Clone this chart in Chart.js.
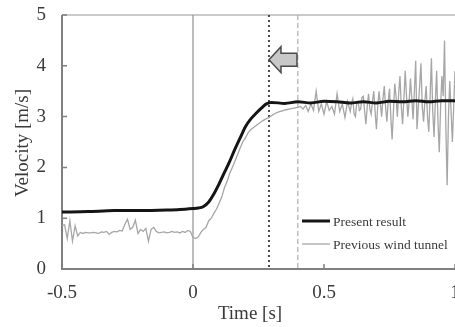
<!DOCTYPE html>
<html>
<head>
<meta charset="utf-8">
<script src="https://cdn.jsdelivr.net/npm/chart.js@4/dist/chart.umd.min.js"></script>
<style>
  html, body { margin: 0; padding: 0; background: #fff; }
  canvas { display: block; }
</style>
</head>
<body>
<canvas id="velocity-chart" width="455" height="327"></canvas>
<script>
// Present result (smooth, thick black)
const presentTimes = [
  -0.5, -0.4, -0.3, -0.2, -0.1, -0.05, 0, 0.02, 0.04, 0.06, 0.08, 0.10,
  0.12, 0.14, 0.16, 0.18, 0.20, 0.22, 0.24, 0.26, 0.28, 0.30, 0.35, 0.40,
  0.45, 0.50, 0.55, 0.60, 0.65, 0.70, 0.75, 0.80, 0.85, 0.90, 0.95, 1.00,
];
const presentVel = [
  1.12, 1.13, 1.15, 1.15, 1.16, 1.17, 1.19, 1.20, 1.23, 1.32, 1.48, 1.68,
  1.90, 2.12, 2.36, 2.58, 2.80, 2.95, 3.06, 3.16, 3.25, 3.28, 3.26, 3.29,
  3.27, 3.30, 3.29, 3.27, 3.29, 3.27, 3.30, 3.29, 3.31, 3.29, 3.31, 3.31,
];

// Previous wind tunnel (noisy, thin gray)
const tunnelTimes = [
  -0.50, -0.49, -0.48, -0.47, -0.46, -0.45, -0.44, -0.43, -0.42, -0.41,
  -0.40, -0.39, -0.38, -0.37, -0.36, -0.35, -0.34, -0.33, -0.32, -0.31,
  -0.30, -0.29, -0.28, -0.27, -0.26, -0.25, -0.24, -0.23, -0.22, -0.21,
  -0.20, -0.19, -0.18, -0.17, -0.16, -0.15, -0.14, -0.13, -0.12, -0.11,
  -0.10, -0.09, -0.08, -0.07, -0.06, -0.05, -0.04, -0.03, -0.02, -0.01,
  0.00, 0.01, 0.02, 0.03, 0.04, 0.05, 0.06, 0.07, 0.08, 0.09,
  0.10, 0.11, 0.12, 0.13, 0.14, 0.15, 0.16, 0.17, 0.18, 0.19,
  0.20, 0.21, 0.22, 0.23, 0.24, 0.25, 0.26, 0.27, 0.28, 0.29,
  0.30, 0.31, 0.32, 0.33, 0.34, 0.35, 0.36, 0.37, 0.38, 0.39,
  0.40, 0.41, 0.42, 0.43, 0.44, 0.45, 0.46, 0.47, 0.48, 0.49,
  0.50, 0.51, 0.52, 0.53, 0.54, 0.55, 0.56, 0.57, 0.58, 0.59,
  0.600, 0.605, 0.610, 0.615, 0.620, 0.625, 0.630, 0.635, 0.640, 0.645,
  0.650, 0.655, 0.660, 0.665, 0.670, 0.675, 0.680, 0.685, 0.690, 0.695,
  0.700, 0.705, 0.710, 0.715, 0.720, 0.725, 0.730, 0.735, 0.740, 0.745,
  0.750, 0.755, 0.760, 0.765, 0.770, 0.775, 0.780, 0.785, 0.790, 0.795,
  0.800, 0.805, 0.810, 0.815, 0.820, 0.825, 0.830, 0.835, 0.840, 0.845,
  0.850, 0.855, 0.860, 0.865, 0.870, 0.875, 0.880, 0.885, 0.890, 0.895,
  0.900, 0.905, 0.910, 0.915, 0.920, 0.925, 0.930, 0.935, 0.940, 0.945,
  0.950, 0.955, 0.960, 0.965, 0.970, 0.975, 0.980, 0.985, 0.990, 0.995,
  1.000,
];
const tunnelVel = [
  0.85, 0.87, 0.60, 0.95, 0.55, 0.85, 0.65, 0.72, 0.70, 0.72,
  0.71, 0.71, 0.72, 0.71, 0.70, 0.73, 0.72, 0.74, 0.68, 0.72,
  0.74, 0.73, 0.76, 0.75, 0.88, 0.98, 0.78, 0.82, 0.96, 0.70,
  0.78, 0.74, 0.80, 0.55, 0.78, 0.82, 0.74, 0.71, 0.72, 0.73,
  0.71, 0.72, 0.74, 0.72, 0.73, 0.71, 0.74, 0.72, 0.76, 0.74,
  0.62, 0.60, 0.63, 0.72, 0.78, 0.82, 0.95, 1.00, 1.10, 1.18,
  1.30, 1.42, 1.60, 1.72, 1.88, 2.00, 2.12, 2.25, 2.38, 2.50,
  2.58, 2.68, 2.74, 2.78, 2.82, 2.86, 2.90, 2.93, 2.96, 2.98,
  3.02, 3.05, 3.08, 3.10, 3.11, 3.13, 3.14, 3.15, 3.16, 3.17,
  3.18, 3.20, 3.15, 3.22, 3.10, 3.25, 3.12, 3.50, 3.10, 3.25,
  3.05, 3.30, 3.12, 3.20, 3.05, 3.45, 3.10, 3.25, 2.98, 3.30,
  3.10, 3.25, 3.35, 3.05, 3.00, 3.28, 3.30, 3.12, 3.15, 3.38,
  3.40, 3.10, 2.85, 3.20, 3.45, 3.15, 3.05, 3.30, 3.50, 3.10,
  2.75, 3.20, 3.50, 3.25, 3.00, 3.35, 3.60, 3.20, 2.90, 3.30,
  3.55, 3.00, 2.55, 3.10, 3.65, 3.40, 3.00, 3.45, 3.80, 3.20,
  2.85, 3.35, 3.90, 3.40, 3.00, 3.30, 3.75, 3.35, 2.95, 3.50,
  4.10, 2.75, 3.20, 3.60, 4.05, 3.20, 2.90, 3.30, 3.60, 3.00,
  2.70, 3.40, 4.15, 3.10, 2.60, 3.30, 3.90, 2.90, 2.30, 3.20,
  3.80, 3.40, 4.50, 2.80, 1.65, 3.00, 3.70, 3.10, 2.50, 3.20,
  3.90,
];

const xTickValues = [-0.5, 0, 0.5, 1];
const yTickValues = [0, 1, 2, 3, 4, 5];
const seriesLabels = ['Present result', 'Previous wind tunnel'];

// vertical markers (time) and arrow anchor (time, velocity)
const startTime    = 0;
const presentMark  = 0.29;
const previousMark = 0.40;
const arrowTip     = { t: 0.29, v: 4.12 };

const SERIF   = '"Liberation Serif", "Times New Roman", serif';
const textCol = '#3a3a3a';

const toPoints = (ts, vs) => ts.map((t, i) => ({ x: t, y: vs[i] }));

const decorations = {
  id: 'decorations',
  beforeDatasetsDraw(chart) {
    const { ctx, chartArea: a, scales: { x, y } } = chart;
    ctx.save();

    // top frame line
    ctx.strokeStyle = '#b8b8b8';
    ctx.lineWidth = 1.5;
    ctx.beginPath();
    ctx.moveTo(a.left, a.top);
    ctx.lineTo(a.right, a.top);
    ctx.stroke();

    // t = 0 solid line
    ctx.strokeStyle = '#9a9a9a';
    ctx.lineWidth = 1.3;
    ctx.beginPath();
    ctx.moveTo(x.getPixelForValue(startTime), a.top);
    ctx.lineTo(x.getPixelForValue(startTime), a.bottom);
    ctx.stroke();

    // present result dotted line
    ctx.strokeStyle = '#4a4a4a';
    ctx.lineWidth = 2;
    ctx.setLineDash([2, 3]);
    ctx.beginPath();
    ctx.moveTo(x.getPixelForValue(presentMark), a.top);
    ctx.lineTo(x.getPixelForValue(presentMark), a.bottom);
    ctx.stroke();

    // previous wind tunnel dashed line
    ctx.strokeStyle = '#b0b0b0';
    ctx.lineWidth = 1.2;
    ctx.setLineDash([5, 3]);
    ctx.beginPath();
    ctx.moveTo(x.getPixelForValue(previousMark), a.top);
    ctx.lineTo(x.getPixelForValue(previousMark), a.bottom);
    ctx.stroke();
    ctx.setLineDash([]);

    // left + bottom axes
    ctx.strokeStyle = '#808080';
    ctx.lineWidth = 2;
    ctx.beginPath();
    ctx.moveTo(a.left, a.top);
    ctx.lineTo(a.left, a.bottom);
    ctx.lineTo(a.right, a.bottom);
    ctx.stroke();

    // inward tick marks
    ctx.lineWidth = 1.5;
    ctx.beginPath();
    yTickValues.forEach(v => {
      const py = y.getPixelForValue(v);
      ctx.moveTo(a.left, py);
      ctx.lineTo(a.left + 5, py);
    });
    xTickValues.forEach(t => {
      const px = x.getPixelForValue(t);
      ctx.moveTo(px, a.bottom);
      ctx.lineTo(px, a.bottom - 5);
    });
    ctx.stroke();
    ctx.restore();
  },

  afterDatasetsDraw(chart) {
    const { ctx, scales: { x, y } } = chart;
    ctx.save();

    // block arrow pointing left
    const tx = x.getPixelForValue(arrowTip.t);
    const ty = y.getPixelForValue(arrowTip.v);
    ctx.beginPath();
    ctx.moveTo(tx, ty);
    ctx.lineTo(tx + 12, ty - 13);
    ctx.lineTo(tx + 12, ty - 6.5);
    ctx.lineTo(tx + 28, ty - 6.5);
    ctx.lineTo(tx + 28, ty + 6.5);
    ctx.lineTo(tx + 12, ty + 6.5);
    ctx.lineTo(tx + 12, ty + 13);
    ctx.closePath();
    ctx.fillStyle = '#c8c8c8';
    ctx.fill();
    ctx.strokeStyle = '#4a4a4a';
    ctx.lineWidth = 1.5;
    ctx.stroke();

    // legend
    const ds = chart.data.datasets;
    const rows = [221, 244];
    ctx.font = `13.5px ${SERIF}`;
    ctx.textBaseline = 'middle';
    ctx.textAlign = 'left';
    ds.forEach((d, i) => {
      ctx.strokeStyle = d.borderColor;
      ctx.lineWidth = d.borderWidth;
      ctx.beginPath();
      ctx.moveTo(302, rows[i]);
      ctx.lineTo(330, rows[i]);
      ctx.stroke();
      ctx.fillStyle = textCol;
      ctx.fillText(d.label, 333, rows[i] + 1);
    });

    // axis titles
    ctx.font = `19px ${SERIF}`;
    ctx.fillStyle = textCol;
    ctx.textAlign = 'center';
    ctx.fillText('Time [s]', 250, 314);
    ctx.translate(23, 143);
    ctx.rotate(-Math.PI / 2);
    ctx.fillText('Velocity [m/s]', 0, 0);
    ctx.restore();
  },
};

new Chart(document.getElementById('velocity-chart'), {
  type: 'line',
  data: {
    datasets: [
      {
        label:            seriesLabels[0],
        data:             toPoints(presentTimes, presentVel),
        borderColor:      '#151515',
        borderWidth:      3,
        pointRadius:      0,
        tension:          0.4,
        cubicInterpolationMode: 'monotone',
      },
      {
        label:            seriesLabels[1],
        data:             toPoints(tunnelTimes, tunnelVel),
        borderColor:      '#a6a6a6',
        borderWidth:      1.3,
        pointRadius:      0,
        tension:          0,
      },
    ],
  },
  options: {
    responsive:  false,
    animation:   false,
    devicePixelRatio: 1,
    layout:      { padding: { top: 15, right: 0, left: 0, bottom: 0 } },
    plugins:     { legend: { display: false }, tooltip: { enabled: false } },
    scales: {
      x: {
        type: 'linear',
        min: -0.5,
        max: 1,
        grid:   { display: false, drawTicks: false },
        border: { display: false },
        afterBuildTicks: s => { s.ticks = xTickValues.map(v => ({ value: v })); },
        ticks: {
          color: textCol,
          font: { family: SERIF, size: 19 },
          padding: 13,
          maxRotation: 0,
          autoSkip: false,
          callback: v => String(v),
        },
        afterFit: s => { s.height = 58; s.paddingLeft = 0; s.paddingRight = 0; },
      },
      y: {
        min: 0,
        max: 5,
        grid:   { display: false, drawTicks: false },
        border: { display: false },
        afterBuildTicks: s => { s.ticks = yTickValues.map(v => ({ value: v })); },
        ticks: {
          color: textCol,
          font: { family: SERIF, size: 19 },
          padding: 16,
          callback: v => String(v),
        },
        afterFit: s => { s.width = 62; s.paddingTop = 0; s.paddingBottom = 0; },
      },
    },
  },
  plugins: [decorations],
});
</script>
</body>
</html>
